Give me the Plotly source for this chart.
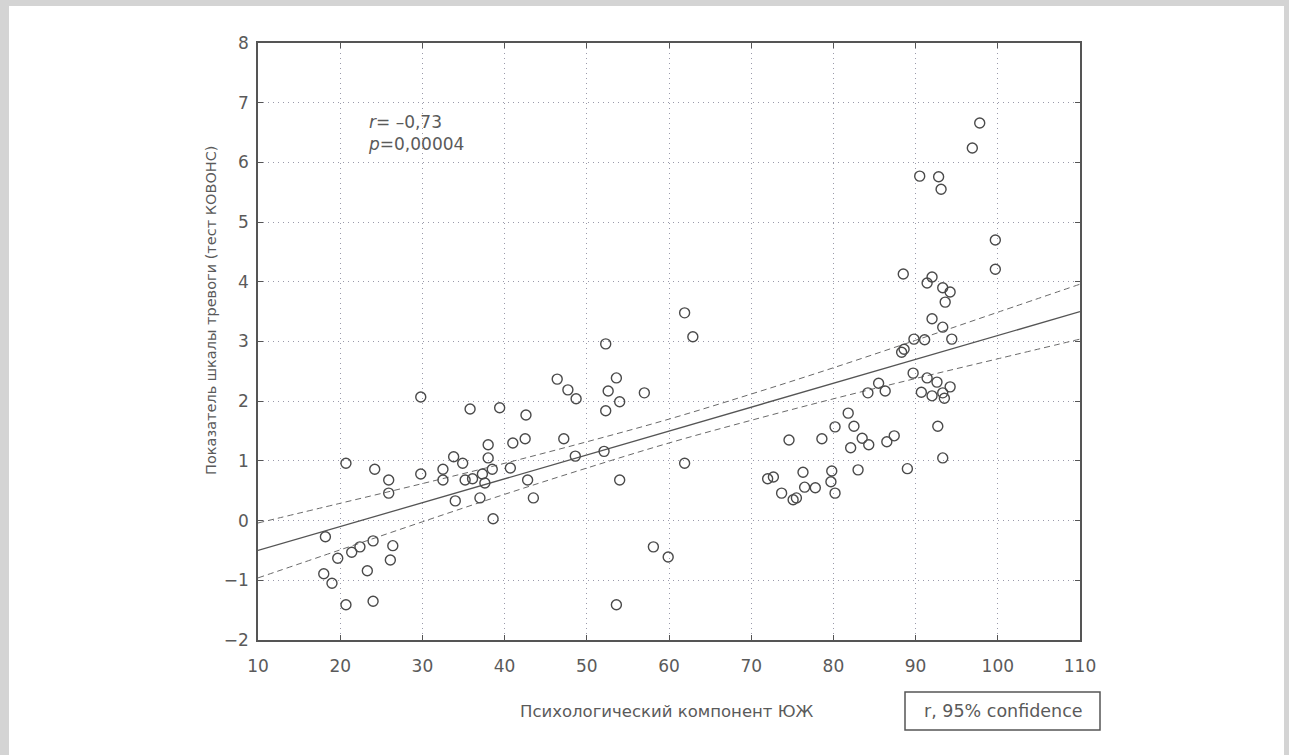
import plotly.graph_objects as go

# ---- data ----
pts_x = [
    20.7, 24.2, 25.9, 25.9, 29.8, 32.5, 33.8, 34.0, 32.5, 18.2, 19.7, 21.4, 22.4, 24.0,
    26.4, 26.1, 23.3, 18.0, 19.0, 20.7, 24.0,
    29.8, 35.8, 39.4, 42.6, 61.9, 62.9, 52.3, 46.4, 47.7, 48.7, 53.6, 52.6, 54.0, 52.3,
    57.0, 34.9, 38.0, 38.0, 38.5, 41.0, 42.5, 47.2, 48.6, 52.1, 40.7, 35.2, 36.1, 37.3,
    37.6, 42.8, 37.0, 43.5, 38.6, 54.0, 61.9, 58.1, 59.9, 53.6,
    89.7, 91.4, 92.6, 94.2, 90.7, 92.0, 93.3, 93.5, 85.5, 86.3, 84.2, 81.8, 82.5, 80.2,
    83.5, 84.3, 82.1, 78.6, 74.6, 86.5, 87.4, 92.7, 93.3, 89.0, 83.0, 79.8, 76.3, 72.0,
    72.7, 79.7, 76.5, 73.7, 77.8, 80.2, 75.1, 75.5,
    97.8, 96.9, 90.5, 92.8, 93.1, 99.7, 99.7, 88.5, 92.0, 91.4, 93.3, 94.2, 93.6, 92.0,
    93.3, 94.4, 91.1, 89.8, 88.6, 88.3,
]
pts_y = [
    0.96, 0.86, 0.68, 0.46, 0.78, 0.86, 1.07, 0.33, 0.68, -0.27, -0.63, -0.53, -0.44, -0.34,
    -0.42, -0.66, -0.84, -0.89, -1.05, -1.41, -1.35,
    2.07, 1.87, 1.89, 1.77, 3.48, 3.08, 2.96, 2.37, 2.19, 2.04, 2.39, 2.17, 1.99, 1.84,
    2.14, 0.96, 1.27, 1.05, 0.86, 1.30, 1.37, 1.37, 1.08, 1.16, 0.88, 0.68, 0.70, 0.78,
    0.63, 0.68, 0.38, 0.38, 0.03, 0.68, 0.96, -0.44, -0.61, -1.41,
    2.47, 2.39, 2.32, 2.24, 2.15, 2.09, 2.14, 2.05, 2.30, 2.17, 2.14, 1.80, 1.58, 1.57,
    1.38, 1.27, 1.22, 1.37, 1.35, 1.32, 1.42, 1.58, 1.05, 0.87, 0.85, 0.83, 0.81, 0.70,
    0.73, 0.65, 0.56, 0.46, 0.55, 0.46, 0.35, 0.38,
    6.66, 6.24, 5.77, 5.76, 5.55, 4.70, 4.21, 4.13, 4.08, 3.98, 3.90, 3.83, 3.66, 3.38,
    3.24, 3.04, 3.03, 3.04, 2.87, 2.82,
]

fit_x = [10, 20, 30, 40, 50, 60, 70, 80, 90, 100, 110]
fit_y = [-0.5, -0.1, 0.3, 0.7, 1.1, 1.5, 1.9, 2.3, 2.7, 3.1, 3.5]
ci_upper = [-0.04, 0.29, 0.62, 0.96, 1.32, 1.70, 2.12, 2.56, 3.02, 3.49, 3.96]
ci_lower = [-0.96, -0.49, -0.02, 0.44, 0.88, 1.30, 1.68, 2.04, 2.38, 2.71, 3.04]

x_ticks = [10, 20, 30, 40, 50, 60, 70, 80, 90, 100, 110]
y_ticks = [-2, -1, 0, 1, 2, 3, 4, 5, 6, 7, 8]

x_title = "Психологический компонент ЮЖ"
y_title = "Показатель шкалы тревоги (тест КОВОНС)"
stat_text = "<i>r</i>= –0,73<br><i>p</i>=0,00004"
legend_text = "r, 95% confidence"

# ---- layout geometry (pixels) ----
W, H = 1289, 755
L, R, T, B = 258, 1080, 43, 640
PW, PH = R - L, B - T


def px(xp):
    return (xp - L) / PW


def py(yp):
    return (B - yp) / PH


TXT = "#5a5a5a"
FONT = "DejaVu Sans"

fig = go.Figure()

fig.add_trace(go.Scatter(
    x=fit_x, y=ci_upper, mode="lines", line=dict(color="#6a6a6a", width=1, dash="6px,4px", shape="spline"),
    hoverinfo="skip", showlegend=False))
fig.add_trace(go.Scatter(
    x=fit_x, y=ci_lower, mode="lines", line=dict(color="#6a6a6a", width=1, dash="6px,4px", shape="spline"),
    hoverinfo="skip", showlegend=False))
fig.add_trace(go.Scatter(
    x=fit_x, y=fit_y, mode="lines", line=dict(color="#555555", width=1.3),
    hoverinfo="skip", showlegend=False))
fig.add_trace(go.Scatter(
    x=pts_x, y=pts_y, mode="markers",
    marker=dict(symbol="circle-open", size=10, color="#4a4a4a", line=dict(width=1.4, color="#4a4a4a")),
    showlegend=False))

axis_common = dict(
    showline=True, linecolor="#555555", linewidth=1.6, mirror="allticks",
    ticks="inside", ticklen=5, tickcolor="#555555",
    showgrid=True, gridcolor="#9a9aaa", griddash="1px,4px", gridwidth=1.2,
    zeroline=False,
    tickfont=dict(family=FONT, size=17, color=TXT),
)

fig.update_xaxes(range=[10, 110], tickvals=x_ticks, ticklabelstandoff=10, **axis_common)
fig.update_yaxes(range=[-2, 8], tickvals=y_ticks, ticklabelstandoff=4, **axis_common)

annotations = [
    dict(x=px(211), y=py(310), xref="paper", yref="paper", text=y_title, textangle=-90,
         showarrow=False, xanchor="center", yanchor="middle",
         font=dict(family=FONT, size=14.5, color=TXT)),
    dict(x=px(667), y=py(711), xref="paper", yref="paper", text=x_title,
         showarrow=False, xanchor="center", yanchor="middle",
         font=dict(family=FONT, size=16.5, color=TXT)),
    dict(x=px(366), y=py(133), xref="paper", yref="paper", text=stat_text, align="left",
         showarrow=False, xanchor="left", yanchor="middle",
         font=dict(family=FONT, size=17, color=TXT)),
    dict(x=px(1003), y=py(711), xref="paper", yref="paper", text=legend_text,
         showarrow=False, xanchor="center", yanchor="middle",
         font=dict(family=FONT, size=17.5, color=TXT)),
]

shapes = [
    # legend box
    dict(type="rect", xref="paper", yref="paper", x0=px(905), x1=px(1100), y0=py(730), y1=py(692),
         line=dict(color="#555555", width=1.5), fillcolor="rgba(0,0,0,0)"),
    # page border bands
    dict(type="rect", xref="paper", yref="paper", x0=px(0), x1=px(W), y0=py(0), y1=py(6),
         line=dict(width=0), fillcolor="#d4d4d4", layer="below"),
    dict(type="rect", xref="paper", yref="paper", x0=px(0), x1=px(9), y0=py(0), y1=py(H),
         line=dict(width=0), fillcolor="#d4d4d4", layer="below"),
    dict(type="rect", xref="paper", yref="paper", x0=px(1284), x1=px(W), y0=py(0), y1=py(H),
         line=dict(width=0), fillcolor="#d4d4d4", layer="below"),
]

fig.update_layout(
    width=W, height=H,
    margin=dict(l=L, r=W - R, t=T, b=H - B),
    paper_bgcolor="white", plot_bgcolor="white",
    showlegend=False,
    annotations=annotations, shapes=shapes,
    font=dict(family=FONT, color=TXT),
)

fig.write_html(
    "out.html",
    config={"displayModeBar": False},
    post_script="document.body.style.margin='0';document.body.style.overflow='hidden';",
)
